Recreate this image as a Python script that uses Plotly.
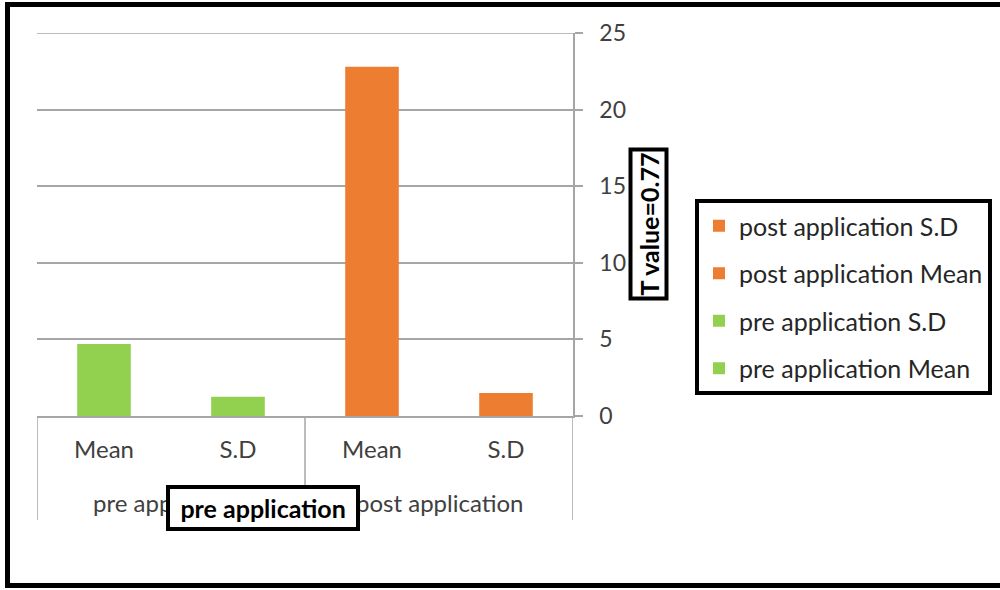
import plotly.graph_objects as go

groups = ["pre application", "pre application", "post application", "post application"]
stats = ["Mean", "S.D", "Mean", "S.D"]
values = [4.7, 1.25, 22.8, 1.5]
names = ["pre application Mean", "pre application S.D", "post application Mean", "post application S.D"]
colors = ["#92D050", "#92D050", "#ED7D31", "#ED7D31"]
y_ticks = [0, 5, 10, 15, 20, 25]
t_label = "T value=0.77"
box_label = "pre application"

W, H = 1000, 590
L, R, T, B = 37, 573, 33, 416


def px(x):
    return (x - L) / (R - L)


def py(y):
    return (B - y) / (B - T)


FONT = "Lato"
AXC = "#A6A6A6"
pos = list(range(len(stats)))

fig = go.Figure()
# legend lists the series last-to-first, as in the reference
for p, v, n, c in reversed(list(zip(pos, values, names, colors))):
    fig.add_trace(go.Bar(
        x=[p], y=[v], name=n, marker=dict(color=c, line=dict(width=0)),
        width=0.4, legendgroup=n,
    ))

fig.update_layout(
    width=W, height=H, barmode="overlay",
    margin=dict(l=L, r=W - R, t=T, b=H - B, autoexpand=False),
    paper_bgcolor="white", plot_bgcolor="white",
    font=dict(family=FONT, size=24, color="#404040"),
    legend=dict(
        x=px(695), y=py(199), xanchor="left", yanchor="top",
        traceorder="grouped", bordercolor="black", borderwidth=4,
        font=dict(family=FONT, size=25, color="#262626"),
        tracegroupgap=12, itemwidth=30, bgcolor="white",
    ),
    showlegend=True,
)
fig.update_xaxes(
    range=[-0.5, len(stats) - 0.5], tickvals=pos, ticktext=stats,
    showline=True, linecolor=AXC, linewidth=1.5, showgrid=False, ticks="",
    ticklabelstandoff=11, zeroline=False,
    tickfont=dict(family=FONT, size=24, color="#404040"),
)
fig.update_yaxes(
    side="right", range=[y_ticks[0], y_ticks[-1]], tickvals=y_ticks, showgrid=True,
    gridcolor=AXC, gridwidth=1.5, showline=True, linecolor=AXC,
    linewidth=1.5, ticks="outside", ticklen=8, tickcolor=AXC,
    tickwidth=1.5, ticklabelstandoff=12, zeroline=False,
    tickfont=dict(family=FONT, size=23, color="#404040"),
)
# top gridline (plotly skips the one on the plot edge)
fig.add_shape(
    type="line", xref="paper", yref="y", x0=0, x1=1,
    y0=y_ticks[-1], y1=y_ticks[-1], line=dict(color=AXC, width=1.5),
)

# group labels and dividers derived from the group list
uniq = []
for g in groups:
    if g not in uniq:
        uniq.append(g)
bounds = [-0.5]
for g in uniq:
    idx = [i for i, gg in enumerate(groups) if gg == g]
    center = sum(idx) / len(idx)
    bounds.append(max(idx) + 0.5)
    fig.add_annotation(
        text=g, xref="x", yref="paper", x=center, y=py(503),
        yanchor="middle", xanchor="center", showarrow=False,
        font=dict(family=FONT, size=24, color="#404040"),
    )
for b in bounds:
    fig.add_shape(
        type="line", xref="x", yref="paper", x0=b, x1=b, y0=0, y1=py(520),
        line=dict(color=AXC, width=1.5),
    )

fig.add_annotation(
    text="<b>" + t_label + "</b>", xref="paper", yref="paper",
    x=px(648.5), y=py(224), xanchor="center", yanchor="middle",
    textangle=-90, showarrow=False,
    font=dict(family=FONT, size=25, color="black"),
    bordercolor="black", borderwidth=4, borderpad=1, bgcolor="white",
)
fig.add_annotation(
    text="&nbsp;<b>" + box_label + "</b>&nbsp;", xref="paper", yref="paper",
    x=px(263), y=py(507.5), xanchor="center", yanchor="middle",
    showarrow=False,
    font=dict(family=FONT, size=25, color="black"),
    bordercolor="black", borderwidth=4, borderpad=4, bgcolor="white",
)
fig.add_shape(
    type="rect", xref="paper", yref="paper",
    x0=px(7.5), x1=px(1012), y0=py(585.5), y1=py(4.5),
    line=dict(color="black", width=5), layer="above",
)

fig.write_html(
    "out.html",
    config={"displayModeBar": False},
    post_script="document.body.style.margin='0';",
)
